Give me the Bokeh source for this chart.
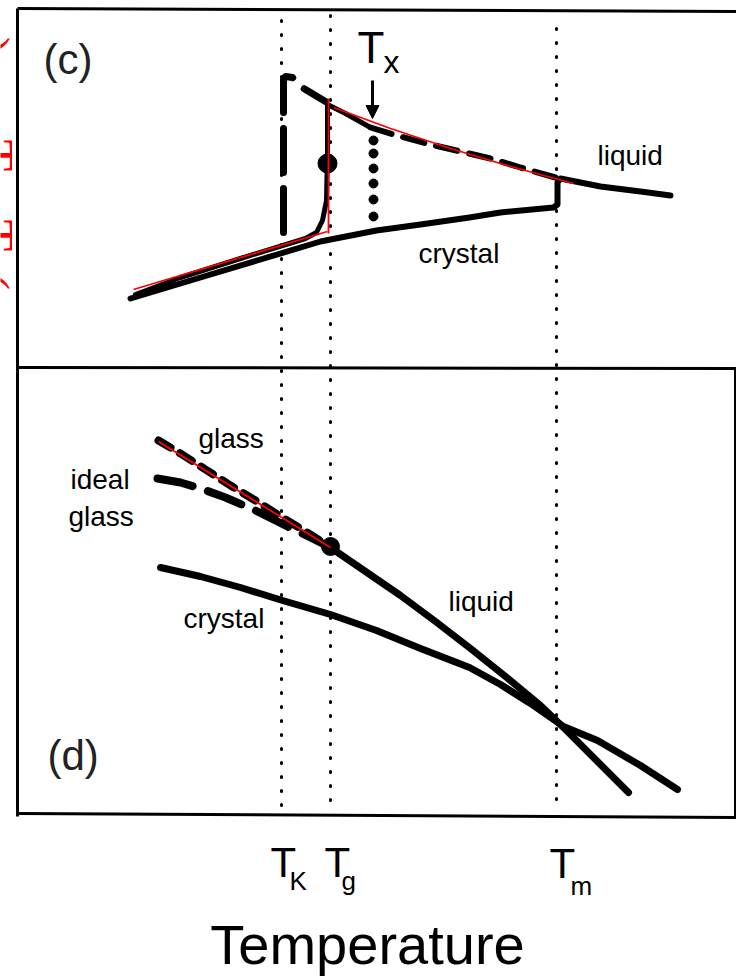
import numpy as np
from bokeh.plotting import figure
from bokeh.models import Range1d, Arrow, NormalHead
from bokeh.core.properties import value
from bokeh.embed import file_html
from bokeh.resources import INLINE

# ---------------- data (schematic units: temperature -> x, property -> y, y grows downward) ----
T_marks = [281, 330, 556]            # T_K, T_g, T_m
T_subs = ["K", "g", "m"]
T_x = 373

# panel (c)
c_crystal_T = [130, 200, 260, 320, 330, 376, 420, 469, 500, 553, 557, 557, 560, 600, 640, 670]
c_crystal_V = [298, 277, 259, 241, 239, 230, 224, 217, 212, 207, 204, 182, 178, 186, 191, 195]
c_glass_T = [370, 345, 327, 327, 326, 322, 316, 305, 240, 180, 135]
c_glass_V = [127, 113, 104, 150, 200, 220, 232, 238, 258, 277, 294]
c_fastglass_T = [283, 283, 285, 292, 300, 325]
c_fastglass_V = [232, 79, 76, 77, 86, 101]
c_liqdash_T = [370, 400, 430, 460, 490, 520, 555]
c_liqdash_V = [127, 136, 144, 151, 158, 167, 177]
c_tx_dots_V = [140, 153, 168, 183, 199, 216]
c_red_tan_T = [133, 327]
c_red_tan_V = [289, 231]
c_red_vert_T = [328, 328]
c_red_vert_V = [98, 233]
c_red_liq_T = [333, 390, 450, 510, 573]
c_red_liq_V = [107, 128, 148, 166, 183]

# panel (d)
d_glass_T = [158, 180, 205, 230, 255, 280, 305, 330]
d_glass_G = [440, 453, 469, 485, 500, 516, 531, 547]
d_ideal_T = [157, 180, 200, 225, 255, 285, 310, 330]
d_ideal_G = [478, 482, 488, 497, 510, 525, 537, 547]
d_liquid_T = [330, 365, 400, 435, 470, 505, 540, 565, 597, 628]
d_liquid_G = [547, 571, 595, 621, 648, 676, 705, 729, 761, 792]
d_crystal_T = [160, 200, 240, 282, 330, 376, 420, 469, 500, 530, 563, 597, 640, 677]
d_crystal_G = [567, 576, 587, 600, 614, 630, 648, 667, 684, 703, 726, 740, 765, 789]

FONT = value("Liberation Sans")

p = figure(width=736, height=978, x_range=Range1d(0, 736), y_range=Range1d(978, 0),
           output_backend="svg", toolbar_location=None, min_border=0,
           x_axis_type=None, y_axis_type=None, outline_line_color=None,
           background_fill_color="white", border_fill_color="white")
p.xgrid.visible = False
p.ygrid.visible = False


def label(xs, ys, texts, size, align="left", color="black", font=FONT):
    # baseline correction for rendering offset
    ys = [y - 0.35 * size for y in ys]
    p.text(xs, ys, text=texts, text_font=font, text_font_size=f"{size}px",
           text_color=color, text_align=align, text_baseline="alphabetic")


# frames
p.line([17, 736], [8, 11], line_color="black", line_width=3)
p.line([17, 17], [8, 816], line_color="black", line_width=3)
p.line([17, 736], [367, 368], line_color="black", line_width=3)
p.line([17, 736], [813, 817], line_color="black", line_width=3)
p.line([735, 735], [368, 817], line_color="black", line_width=3)

# dotted temperature markers
tops = [20, 15, 28]
for t, top in zip(T_marks, tops):
    p.line([t, t], [top, 811], line_color="black", line_width=3, line_dash="1 13",
           line_cap="round")

# ---- panel (c)
p.line(c_crystal_T, c_crystal_V, line_color="black", line_width=6, line_join="round", line_cap="round")
p.line(c_glass_T, c_glass_V, line_color="black", line_width=5, line_join="round", line_cap="round")
p.line(c_fastglass_T, c_fastglass_V, line_color="black", line_width=7, line_dash="44 16",
       line_join="round", line_cap="round")
p.line(c_liqdash_T, c_liqdash_V, line_color="black", line_width=6, line_dash="22 12",
       line_cap="round")
p.scatter([T_x] * len(c_tx_dots_V), c_tx_dots_V, size=9, color="black")
p.scatter([327], [163], size=19, color="black")
p.add_layout(Arrow(end=NormalHead(size=13, fill_color="black", line_color="black"),
                   x_start=T_x - 1, y_start=80, x_end=T_x - 1, y_end=118,
                   line_width=3, line_color="black"))

p.line(c_red_tan_T, c_red_tan_V, line_color="red", line_width=1.8)
p.line(c_red_vert_T, c_red_vert_V, line_color="red", line_width=1.8)
p.line(c_red_liq_T, c_red_liq_V, line_color="red", line_width=1.8)

# ---- panel (d)
p.line(d_crystal_T, d_crystal_G, line_color="black", line_width=7, line_join="round", line_cap="round")
p.line(d_liquid_T, d_liquid_G, line_color="black", line_width=7, line_join="round", line_cap="round")
p.line(d_glass_T, d_glass_G, line_color="black", line_width=8, line_dash="14 11",
       line_cap="round")
p.line(d_ideal_T, d_ideal_G, line_color="black", line_width=8, line_dash="36 16",
       line_cap="round")
p.scatter([330], [546], size=18, color="black")
p.line([158, 330], [441, 547], line_color="red", line_width=1.8)

# ---- labels
lab_x = [597, 418, 198, 70, 68, 448, 183]
lab_y = [165, 263, 448, 489, 526, 611, 628]
lab_t = ["liquid", "crystal", "glass", "ideal", "glass", "liquid", "crystal"]
label(lab_x, lab_y, lab_t, 28)

label([43, 47], [74, 770], ["(c)", "(d)"], 42, color="#222222")

# Tx
label([357], [62], ["T"], 44)
label([383], [73], ["x"], 32)

# temperature marks below
main_x = [T_marks[0] - 11, T_marks[1] - 6, T_marks[2] - 7]
sub_x = [T_marks[0] + 8, T_marks[1] + 11, T_marks[2] + 14]
label(main_x, [877, 877, 878], ["T", "T", "T"], 42)
label(sub_x, [890, 890, 895], T_subs, 26)

label([367], [964], ["Temperature"], 56, align="center")

# red side label (clipped at the left edge), reads bottom-to-top
SERIF = value("Liberation Serif")
rs = 52
p.text([12 - 0.35 * rs] * 2, [235, 155], text=["T", "T"], text_font=SERIF,
       text_font_size=f"{rs}px", text_color="red", angle=-np.pi / 2,
       text_align="center", text_baseline="alphabetic")
p.text([8 - 0.35 * rs] * 2, [281, 45], text=["(", ")"], text_font=SERIF,
       text_font_size=f"{rs}px", text_color="red", angle=-np.pi / 2,
       text_align="center", text_baseline="alphabetic")

open("out.html", "w").write(file_html(p, INLINE))
